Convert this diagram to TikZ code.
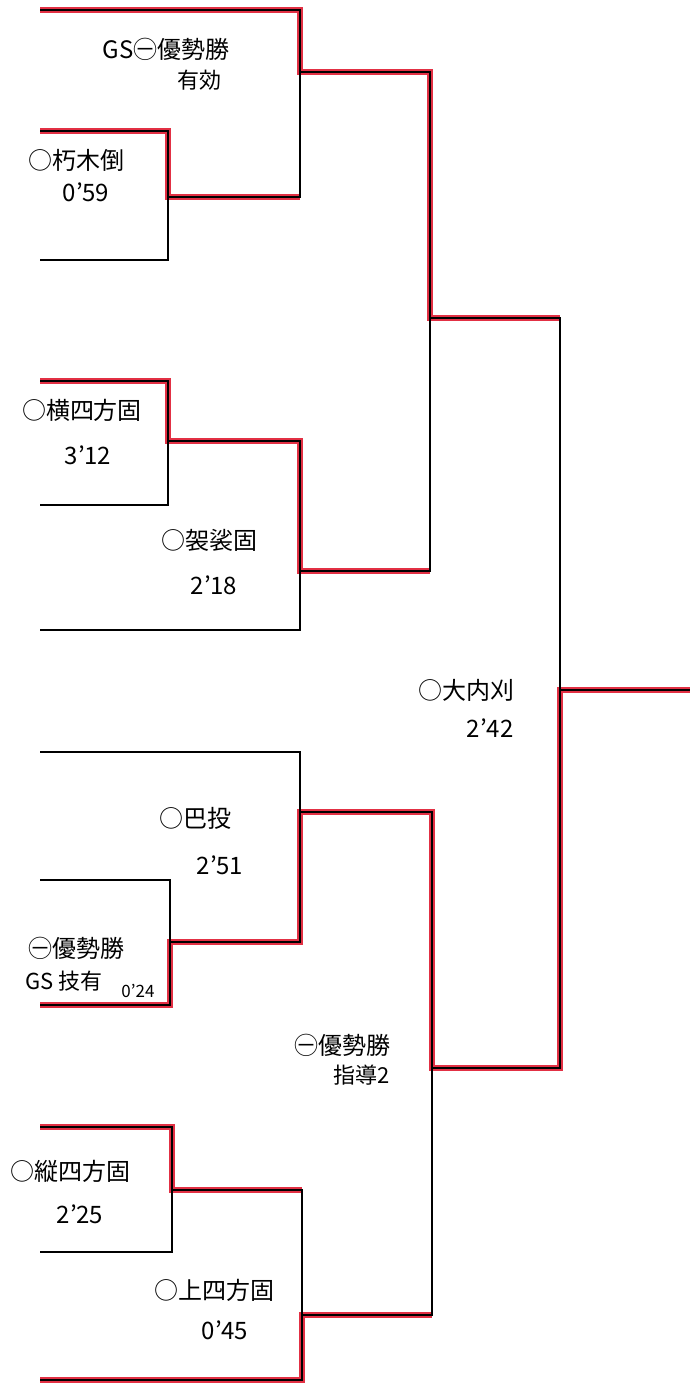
\documentclass[tikz,border=0pt]{standalone}
\usepackage{fontspec}
\setmainfont{Noto Sans CJK JP}
\usepackage{tikz}
\usetikzlibrary{calc}
\definecolor{winred}{RGB}{226,48,68}

\begin{document}
\begin{tikzpicture}[
          x=1pt, y=-1pt,
          bline/.style={black, line width=1.4pt},
          rline/.style={winred, line width=6.5pt, line join=miter},
          waza/.style={font=\fontsize{24}{26}\selectfont, inner sep=0pt},
          note/.style={font=\fontsize{22}{24}\selectfont, inner sep=0pt},
          tiny/.style={font=\fontsize{17}{19}\selectfont, inner sep=0pt}
      ]
          \useasboundingbox (0,0) rectangle (695,1387);
          % entries
          \coordinate (e1) at (40,10);   \coordinate (e2) at (40,131);
          \coordinate (e3) at (40,260);  \coordinate (e4) at (40,381);
          \coordinate (e5) at (40,505);  \coordinate (e6) at (40,630);
          \coordinate (e7) at (40,752);  \coordinate (e8) at (40,880);
          \coordinate (e9) at (40,1005); \coordinate (e10) at (40,1127);
          \coordinate (e11) at (40,1252);\coordinate (e12) at (40,1380);
          % joints
          \coordinate (a1) at (168,197);  \coordinate (a2) at (168,441);
          \coordinate (a3) at (170,942);  \coordinate (a4) at (172,1190);
          \coordinate (b1) at (300,72);   \coordinate (b2) at (300,571);
          \coordinate (b3) at (300,812);  \coordinate (b4) at (302,1315);
          \coordinate (c1) at (430,318);  \coordinate (c2) at (432,1068);
          \coordinate (f) at (560,690);   \coordinate (champ) at (690,690);
          % winners
          \draw[rline] (e1) -| (b1) -| (c1) -- (c1 -| f);
          \draw[rline] (e2) -| (a1) -- (a1 -| b1);
          \draw[rline] (e4) -| (a2) -| (b2) -- (b2 -| c1);
          \draw[rline] (e9) -| (a3) -| (b3) -| (c2) -| (f) -- (champ);
          \draw[rline] (e10) -| (a4) -- (a4 -| b4);
          \draw[rline] (e12) -| (b4) -- (b4 -| c2);
          % bracket
          \foreach \s/\t in {e2/a1, e3/a1, e1/b1, a1/b1, e4/a2, e5/a2, a2/b2, e6/b2,
                             b1/c1, b2/c1, e8/a3, e9/a3, e7/b3, a3/b3, e10/a4, e11/a4,
                             a4/b4, e12/b4, b3/c2, b4/c2, c1/f, c2/f}
              \draw[bline] (\s) -| (\t);
          \draw[bline] (f) -- (champ);
          % results
          \node[waza] (gs1) at (166,49) {GS㊀優勢勝};
          \node[note] (gs1b) at (199,80) {有効};
          \node[waza] (kt) at (76,160) {○朽木倒};
          \node[waza] (kt2) at (86,192) {0'59};
          \node[waza] (ys) at (82,410) {○横四方固};
          \node[waza] (ys2) at (88,455) {3'12};
          \node[waza] (kg) at (209,540) {○袈裟固};
          \node[waza] (kg2) at (214,585) {2'18};
          \node[waza] (tn) at (195,818) {○巴投};
          \node[waza] (tn2) at (220,865) {2'51};
          \node[waza] (ys3) at (76,948) {㊀優勢勝};
          \node[note] (ys3b) at (64,981) {GS 技有};
          \node[tiny] (ys3c) at (138,991) {0'24};
          \node[waza] (js) at (70,1171) {○縦四方固};
          \node[waza] (js2) at (80,1214) {2'25};
          \node[waza] (ks) at (214,1290) {○上四方固};
          \node[waza] (ks2) at (225,1330) {0'45};
          \node[waza] (og) at (466,690) {○大内刈};
          \node[waza] (og2) at (490,728) {2'42};
          \node[waza] (ys4) at (342,1045) {㊀優勢勝};
          \node[note] (ys4b) at (362,1075) {指導2};
      \end{tikzpicture}
\end{document}
